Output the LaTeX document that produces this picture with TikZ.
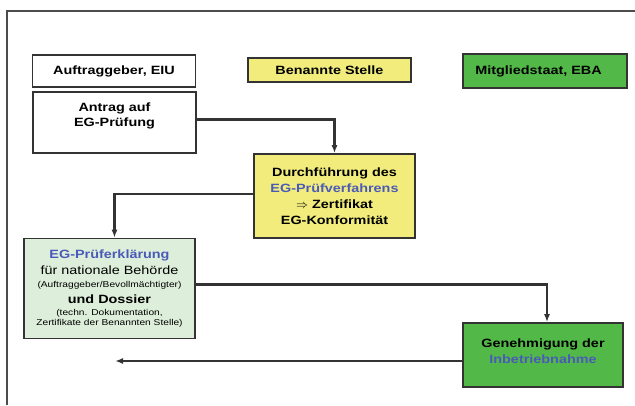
\documentclass[tikz,border=0pt]{standalone}
\usepackage{fontspec}
\setmainfont[FakeStretch=1.2]{Liberation Sans}
\usetikzlibrary{arrows.meta}
\definecolor{stelle}{HTML}{F2EC7C}
\definecolor{staat}{HTML}{52B848}
\definecolor{erkl}{HTML}{DDEFDA}
\definecolor{blau}{HTML}{4A5AB8}
\definecolor{rand}{HTML}{333333}
\newcommand\klein{\mdseries\fontsize{8.5}{10}\selectfont}

\begin{document}
\begin{tikzpicture}[x=1pt,y=-1pt,
  box/.style={draw=rand,line width=1.6pt,align=center,inner sep=2pt,
    font=\fontsize{12}{16}\selectfont\bfseries},
  arr/.style={draw=rand,line width=2.4pt,-{Latex[length=8pt,width=6pt]}}]
  \useasboundingbox (0,0) rectangle (635,405);

  % Rahmen
  \draw[line width=1.6pt,black!70] (7,405) -- (7,11) -- (635,11);

  % Kopfzeile
  \node[box,fill=white,minimum width=163pt,minimum height=32pt] (auftr) at (114,71) {Auftraggeber, EIU};
  \node[box,fill=stelle,minimum width=163pt,minimum height=24pt] (benannt) at (329.5,70) {Benannte Stelle};
  \node[box,fill=staat,minimum width=164pt,minimum height=34pt] (mitglied) at (545,71) {Mitgliedstaat, EBA\hspace*{13pt}};

  % Ablauf
  \node[box,fill=white,minimum width=163pt,minimum height=61pt] (antrag) at (114.5,122.5)
    {Antrag auf\\[-1.5pt]EG-Prüfung\\\mbox{}};
  \node[box,fill=stelle,minimum width=161pt,minimum height=84pt] (durch) at (334.5,196)
    {Durchführung des\\{\color{blau}EG-Prüfverfahrens}\\$\Rightarrow$ Zertifikat\\EG-Konformität};
  \node[box,fill=erkl,minimum width=171pt,minimum height=100pt] (erkl) at (109.5,288.5)
    {{\color{blau}EG-Prüferklärung}\\[-0.5pt]
     {\mdseries für nationale Behörde}\\[-3pt]
     {\klein (Auftraggeber/Bevollmächtigter)}\\
     und Dossier\\[-4pt]
     {\klein (techn. Dokumentation,}\\[-6pt]
     {\klein Zertifikate der Benannten Stelle)}};
  \node[box,fill=staat,minimum width=160pt,minimum height=64pt] (geneh) at (543,355)
    {Genehmigung der\\{\color{blau}Inbetriebnahme}\\[-8pt]\mbox{}};

  % Pfeile
  \coordinate (ende) at (115,361);
  \draw[arr] ([yshift=3pt]antrag.east) -| (durch.north);
  \draw[arr] ([yshift=2pt]durch.west) -| ([xshift=5pt]erkl.north);
  \draw[arr] ([yshift=4pt]erkl.east) -| ([xshift=4pt]geneh.north);
  \draw[arr] ([yshift=-6pt]geneh.west) -- (ende);
\end{tikzpicture}
\end{document}
